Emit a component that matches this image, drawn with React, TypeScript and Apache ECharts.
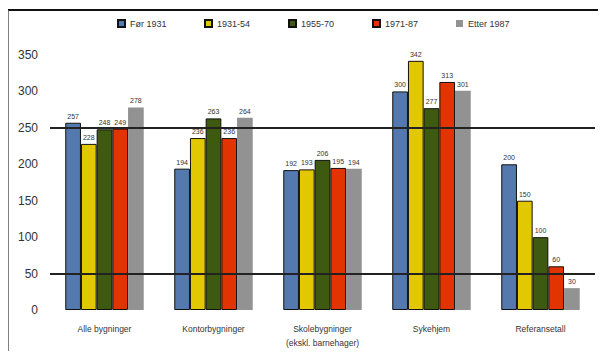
import React, { useEffect, useRef } from "react";
import * as echarts from "echarts";

const categories = [
  "Alle bygninger",
  "Kontorbygninger",
  "Skolebygninger\n(ekskl. barnehager)",
  "Sykehjem",
  "Referansetall",
];
const seriesNames = ["Før 1931", "1931-54", "1955-70", "1971-87", "Etter 1987"];
const colors = ["#5479ae", "#e2c800", "#3d5a10", "#e23400", "#929292"];
const before1931 = [257, 194, 192, 300, 200];
const y1931_54 = [228, 236, 193, 342, 150];
const y1955_70 = [248, 263, 206, 277, 100];
const y1971_87 = [249, 236, 195, 313, 60];
const after1987 = [278, 264, 194, 301, 30];
const seriesValues = [before1931, y1931_54, y1955_70, y1971_87, after1987];
const refLines = [250, 50];
const legendX = [112, 199, 283, 367, 451];

export default function App() {
  const ref = useRef<HTMLDivElement>(null);
  useEffect(() => {
    if (!ref.current) return;
    const chart = echarts.init(ref.current, null, { renderer: "svg" });
    const font = "Liberation Sans";
    chart.setOption({
      animation: false,
      textStyle: { fontFamily: font },
      legend: seriesNames.map((n, i) => ({
        data: [n],
        left: legendX[i],
        top: 14,
        itemWidth: 7,
        itemHeight: 7,
        itemGap: 4,
        icon: "rect",
        textStyle: { fontSize: 9, color: "#333", fontFamily: font },
      })),
      grid: { left: 50, right: 11, top: 55, bottom: 49, containLabel: false },
      xAxis: {
        type: "category",
        data: categories,
        axisLine: { show: false },
        axisTick: { show: false },
        axisLabel: { fontSize: 8.5, color: "#333", margin: 12, lineHeight: 14, interval: 0 },
      },
      yAxis: {
        type: "value",
        min: 0,
        max: 350,
        interval: 50,
        axisLine: { show: false },
        axisTick: { show: false },
        splitLine: { show: false },
        axisLabel: { fontSize: 12, color: "#333", margin: 12 },
      },
      graphic: [
        { type: "line", shape: { x1: 8, y1: 10, x2: 606, y2: 10 }, style: { stroke: "#111", lineWidth: 2 } },
        { type: "line", shape: { x1: 8, y1: 10, x2: 8, y2: 359 }, style: { stroke: "#555", lineWidth: 1.5 } },
      ],
      series: seriesNames.map((n, i) => ({
        name: n,
        type: "bar",
        data: seriesValues[i],
        barGap: "0%",
        barCategoryGap: "28%",
        itemStyle: { color: colors[i], borderColor: "#111", borderWidth: i === 4 ? 0 : 1 },
        label: { show: true, position: "top", fontSize: 7, color: "#333", distance: 3 },
        markLine:
          i === 0
            ? {
                silent: true,
                symbol: "none",
                label: { show: false },
                lineStyle: { color: "#222", width: 2, type: "solid" },
                data: refLines.map((v) => ({ yAxis: v })),
              }
            : undefined,
        z: 3,
      })),
    });
    return () => chart.dispose();
  }, []);
  return <div ref={ref} style={{ width: 606, height: 359, margin: -8 }} />;
}
